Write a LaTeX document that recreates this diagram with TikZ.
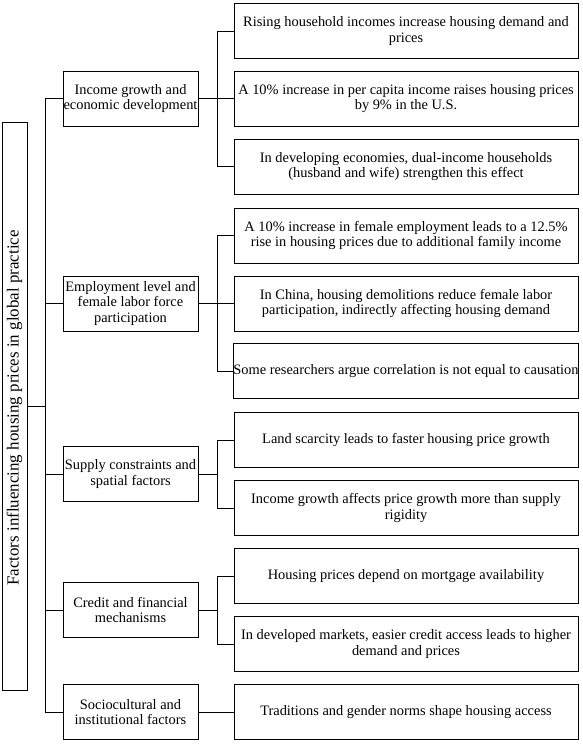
\documentclass[tikz,border=0pt]{standalone}
\usepackage{fontspec}
\setmainfont{Liberation Serif}
\begin{document}
\begin{tikzpicture}[x=0.75pt,y=-0.75pt,
  box/.style={draw,line width=0.75pt,align=center,inner sep=0pt,font=\fontsize{10.8}{11.8}\selectfont},
  leaf/.style={box,minimum width=0.75*344pt,minimum height=0.75*55pt},
  cat/.style={box,minimum width=0.75*135pt,minimum height=0.75*55pt},
  link/.style={line width=0.75pt}]
\useasboundingbox (0,0) rectangle (583,744);
\node[draw,line width=0.75pt,minimum width=0.75*25pt,minimum height=0.75*568pt,inner sep=0pt] (root) at (14.5,406) {};
\node[rotate=90,font=\fontsize{12.7}{14}\selectfont,inner sep=0pt] (rootlabel) at (14.5,408) {Factors influencing housing prices in global practice};
\node[cat] (c1) at (130.5,98.5) {Income growth and\\economic development};
\node[cat] (c2) at (130.5,303.5) {Employment level and\\female labor force\\participation};
\node[cat] (c3) at (130.5,474) {Supply constraints and\\spatial factors};
\node[cat] (c4) at (130.5,610) {Credit and financial\\mechanisms};
\node[cat] (c5) at (130.5,712) {Sociocultural and\\institutional factors};
\node[leaf] (l1) at (406,31) {Rising household incomes increase housing demand and\\prices};
\node[leaf] (l2) at (406,98.5) {A 10\% increase in per capita income raises housing prices\\by 9\% in the U.S.};
\node[leaf] (l3) at (406,166.5) {In developing economies, dual-income households\\(husband and wife) strengthen this effect};
\node[leaf] (l4) at (406,235.5) {A 10\% increase in female employment leads to a 12.5\%\\rise in housing prices due to additional family income};
\node[leaf] (l5) at (406,303.5) {In China, housing demolitions reduce female labor\\participation, indirectly affecting housing demand};
\node[leaf] (l6) at (406,371) {Some researchers argue correlation is not equal to causation};
\node[leaf] (l7) at (406,440) {Land scarcity leads to faster housing price growth};
\node[leaf] (l8) at (406,508) {Income growth affects price growth more than supply\\rigidity};
\node[leaf] (l9) at (406,576) {Housing prices depend on mortgage availability};
\node[leaf] (l10) at (406,644) {In developed markets, easier credit access leads to higher\\demand and prices};
\node[leaf] (l11) at (406,712) {Traditions and gender norms shape housing access};
\coordinate (tr) at (45,0);
\coordinate (bx) at (217,0);
\draw[link] (root.east) -- (root.east -| tr);
\draw[link] (c1.west) -- (c1.west -| tr) -- (c5.west -| tr) -- (c5.west);
\foreach \c in {c2,c3,c4} \draw[link] (\c.west) -- (\c.west -| tr);
\foreach \c in {c1,c2,c3,c4} \draw[link] (\c.east) -- (\c.east -| bx);
\draw[link] (l1.west) -- (l1.west -| bx) -- (l3.west -| bx) -- (l3.west);
\draw[link] (l2.west) -- (l2.west -| bx);
\draw[link] (l4.west) -- (l4.west -| bx) -- (l6.west -| bx) -- (l6.west);
\draw[link] (l5.west) -- (l5.west -| bx);
\draw[link] (l7.west) -- (l7.west -| bx) -- (l8.west -| bx) -- (l8.west);
\draw[link] (l9.west) -- (l9.west -| bx) -- (l10.west -| bx) -- (l10.west);
\draw[link] (c5.east) -- (l11.west);
\end{tikzpicture}
\end{document}
